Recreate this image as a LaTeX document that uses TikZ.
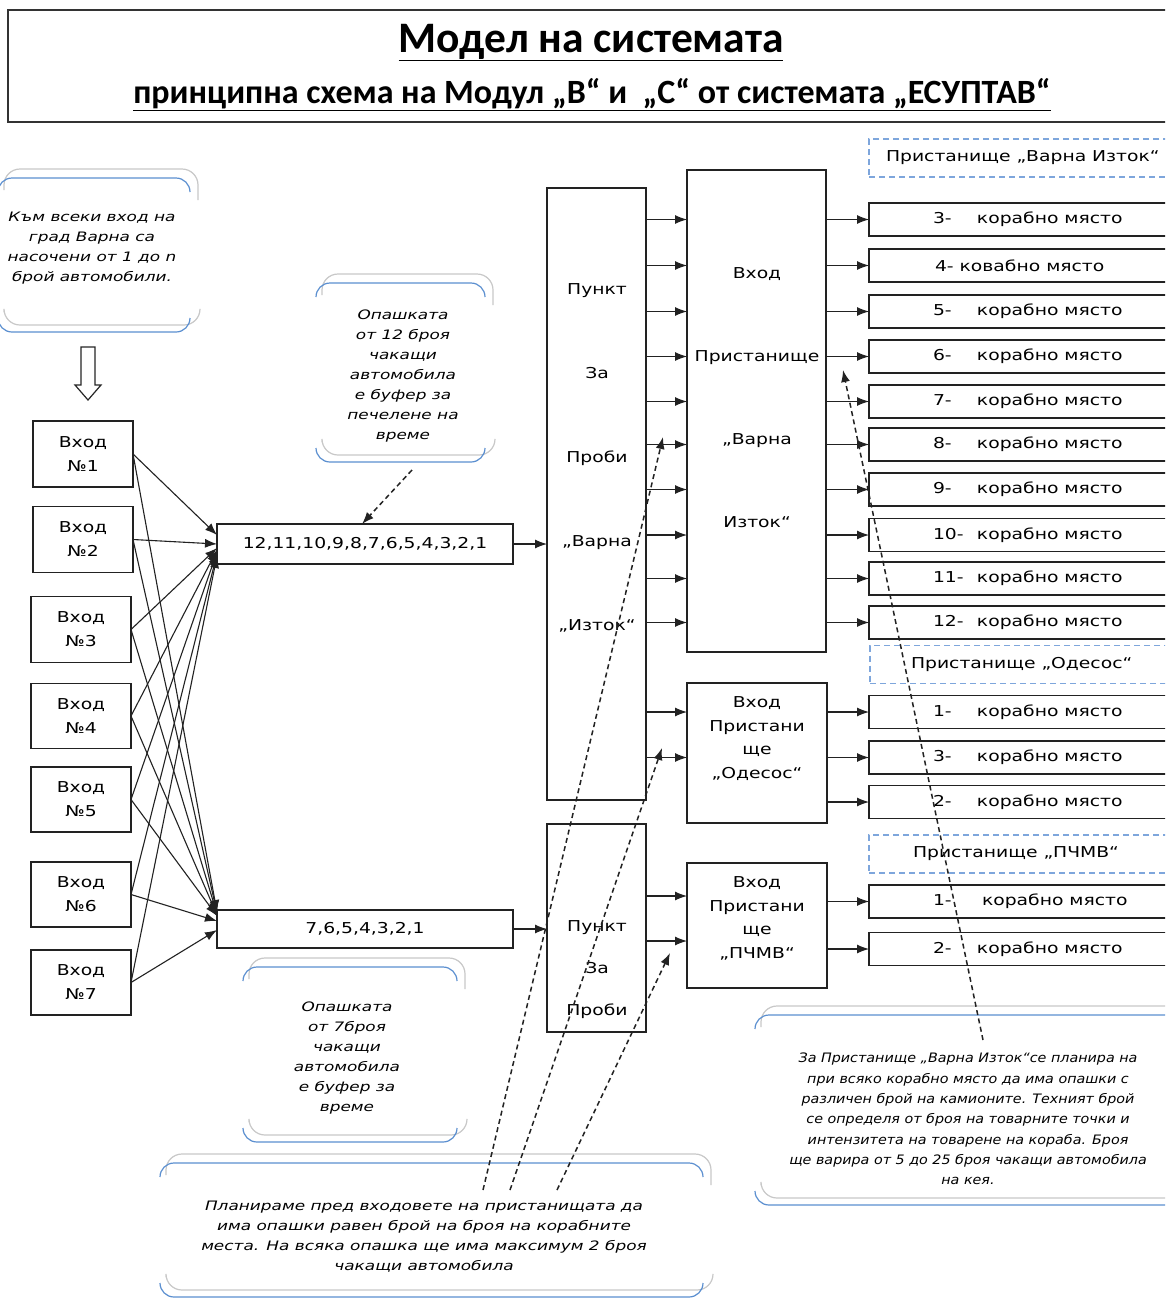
\documentclass[tikz,border=0pt]{standalone}
\usepackage{fontspec}
\usetikzlibrary{arrows.meta,calc}
\newfontfamily\bodyf[FakeStretch=1.25]{DejaVu Sans}
\newfontfamily\notef[FakeStretch=1.3]{DejaVu Sans}
\newfontfamily\notefb[FakeStretch=1.1]{DejaVu Sans}
\newfontfamily\titlef{Carlito}
\definecolor{bblue}{HTML}{5B8FD0}
\definecolor{bgrey}{HTML}{C8C8C8}
\definecolor{dblue}{HTML}{7EA6DC}
\definecolor{lc}{HTML}{222222}
\newcommand\bt[2][44pt]{\makebox[183pt][l]{\makebox[#1][l]{#2}корабно място}}
\newcommand\mybubble[4]{%
  \draw[bgrey,line width=1.2pt,rounded corners=16pt] (#1+6,#2+12) -- (#1+6,#2-9) -- (#3+8,#2-9) -- (#3+8,#2+22);
  \draw[bblue,line width=1.2pt,rounded corners=14pt] (#1,#2+14) -- (#1,#2) -- (#3,#2) -- (#3,#2+14);
  \draw[bgrey,line width=1.2pt,rounded corners=16pt] (#1+6,#4-20) -- (#1+6,#4-7) -- (#3+10,#4-7) -- (#3+10,#4-22);
  \draw[bblue,line width=1.2pt,rounded corners=14pt] (#1,#4-14) -- (#1,#4) -- (#3,#4) -- (#3,#4-14);
}
\tikzset{
  box/.style={draw=lc, line width=1.3pt, inner sep=0pt, outer sep=0pt, font=\bodyf\fontsize{15}{24}\selectfont, align=center},
  berth/.style={box, minimum width=311pt, minimum height=33pt},
  portlbl/.style={draw=dblue, dash pattern=on 6pt off 4pt, line width=1.5pt, minimum width=311pt, minimum height=38pt, inner sep=0pt, font=\bodyf\fontsize{15}{24}\selectfont},
  lbl/.style={font=\bodyf\fontsize{15}{24}\selectfont, align=center, inner sep=0pt},
  note/.style={font=\notef\itshape\fontsize{13}{20}\selectfont, align=center, inner sep=0pt},
  arr/.style={-{Latex[length=12pt,width=9pt]}, line width=1.1pt, draw=lc},
  darr/.style={-{Latex[length=12pt,width=9pt]}, line width=1.5pt, draw=lc, dash pattern=on 5pt off 3.5pt},
}
\begin{document}
\begin{tikzpicture}[x=1pt,y=-1pt]
\useasboundingbox (0,0) rectangle (1165,1301);
\fill[white] (0,0) rectangle (1165,1301);
\clip (0,0) rectangle (1165,1301);

% title
\draw[line width=1.5pt, draw=gray!40!black] (8,10) rectangle (1190,122);
\node[font=\titlef\bfseries\fontsize{43.5}{50}\selectfont, inner sep=0pt, anchor=base] (title) at (591,52) {\underline{Модел на системата}};
\node[font=\titlef\bfseries\fontsize{34}{40}\selectfont, inner sep=0pt, anchor=base] (subtitle) at (592,103) {\underline{принципна схема на Модул „В“ и \ „С“ от системата „ЕСУПТАВ“}};

% bubbles
\mybubble{-2}{178}{190}{332}
\mybubble{316}{283}{485}{462}
\mybubble{243}{967}{457}{1142}
\mybubble{160}{1163}{703}{1297}
\mybubble{755}{1015}{1200}{1205}

\node[note] (n1) at (92,248) {Към всеки вход на\\град Варна са\\насочени от 1 до n\\брой автомобили.};
\node[note] (n2) at (403,376.5) {Опашката\\от 12 броя\\чакащи\\автомобила\\е буфер за\\печелене на\\време};
\node[note] (n3) at (347,1058.5) {Опашката\\от 7броя\\чакащи\\автомобила\\е буфер за\\време};
\node[note] (n4) at (424,1237) {Планираме пред входовете на пристанищата да\\има опашки равен брой на броя на корабните\\места. На всяка опашка ще има максимум 2 броя\\чакащи автомобила};
\node[note, font=\notefb\itshape\fontsize{13}{20.3}\selectfont] (n5) at (968,1119) {За Пристанище „Варна Изток“се планира на\\при всяко корабно място да има опашки с\\различен брой на камионите. Техният брой\\се определя от броя на товарните точки и\\интензитета на товарене на кораба. Броя\\ще варира от 5 до 25 броя чакащи автомобила\\на кея.};

% hollow down arrow
\draw[line width=1.2pt, draw=gray!30!black, fill=white] (81,347) -- (95,347) -- (95,385) -- (101,385) -- (88,400) -- (75,385) -- (81,385) -- cycle;

% inputs
\node[box, minimum width=100pt, minimum height=66pt] (in1) at (83,454) {Вход\\№1};
\node[box, minimum width=100pt, minimum height=66pt] (in2) at (83,539.5) {Вход\\№2};
\node[box, minimum width=100pt, minimum height=66pt] (in3) at (81,629.5) {Вход\\№3};
\node[box, minimum width=100pt, minimum height=65pt] (in4) at (81,716) {Вход\\№4};
\node[box, minimum width=100pt, minimum height=65pt] (in5) at (81,799.5) {Вход\\№5};
\node[box, minimum width=100pt, minimum height=65pt] (in6) at (81,894.5) {Вход\\№6};
\node[box, minimum width=100pt, minimum height=65pt] (in7) at (81,982.5) {Вход\\№7};

% queues
\node[box, minimum width=296pt, minimum height=40pt] (q1) at (365,544) {12,11,10,9,8,7,6,5,4,3,2,1};
\node[box, minimum width=296pt, minimum height=38pt] (q2) at (365,929) {7,6,5,4,3,2,1};

\foreach \i/\a/\b in {1/9/17, 2/0/16, 3/-4/15, 4/-6/14, 5/-8/13, 6/-10/8, 7/-12/-1} {
  \draw[arr] (in\i.east) -- ([yshift=\a pt]q1.west);
  \draw[arr] (in\i.east) -- ([yshift=\b pt]q2.west);
}

% test points
\node[box, minimum width=99pt, minimum height=612pt] (p1) at (596.5,494) {};
\node[lbl, font=\bodyf\fontsize{15}{84}\selectfont] (p1t) at (597,457.5) {Пункт\\За\\Проби\\„Варна\\„Изток“};
\node[box, minimum width=99pt, minimum height=208pt] (p2) at (596.5,928) {};
\node[lbl, font=\bodyf\fontsize{15}{42}\selectfont] (p2t) at (597,970) {Пункт\\За\\Проби};

% port entries
\node[box, minimum width=139pt, minimum height=482pt] (v1) at (756.5,411) {};
\node[lbl, font=\bodyf\fontsize{15}{83}\selectfont] (v1t) at (757,398) {Вход\\Пристанище\\„Варна\\Изток“};
\node[box, minimum width=140pt, minimum height=140pt] (od) at (757,753) {};
\node[lbl, font=\bodyf\fontsize{15}{23.7}\selectfont] (odt) at (757,738.5) {Вход\\Пристани\\ще\\„Одесос“};
\node[box, minimum width=140pt, minimum height=125pt] (pc) at (757,925.5) {};
\node[lbl, font=\bodyf\fontsize{15}{23.7}\selectfont] (pct) at (757,918.5) {Вход\\Пристани\\ще\\„ПЧМВ“};

% port labels
\node[portlbl] (pv) at (1024.5,158) {\makebox[277pt][l]{Пристанище „Варна Изток“}};
\node[portlbl] (pod) at (1025.5,664.5) {\makebox[229pt][l]{Пристанище „Одесос“}};
\node[portlbl] (ppc) at (1024.5,854) {\makebox[223pt][l]{Пристанище „ПЧМВ“}};

% berths
\node[berth] (b3) at (1024.5,219.5) {\bt{3-}};
\node[berth] (b4) at (1024.5,265.5) {\makebox[179pt][l]{4- ковабно място}};
\node[berth] (b5) at (1024.5,311.5) {\bt{5-}};
\node[berth] (b6) at (1024.5,356.5) {\bt{6-}};
\node[berth] (b7) at (1024.5,401.5) {\bt{7-}};
\node[berth] (b8) at (1024.5,444.5) {\bt{8-}};
\node[berth] (b9) at (1024.5,489.5) {\bt{9-}};
\node[berth] (b10) at (1024.5,535) {\bt{10-}};
\node[berth] (b11) at (1024.5,578.5) {\bt{11-}};
\node[berth] (b12) at (1024.5,622.5) {\bt{12-}};
\node[berth] (o1) at (1024.5,712) {\bt{1-}};
\node[berth] (o3) at (1024.5,757.5) {\bt{3-}};
\node[berth] (o2) at (1024.5,802) {\bt{2-}};
\node[berth] (c1) at (1024.5,901.5) {\bt[49pt]{1-}};
\node[berth] (c2) at (1024.5,949) {\bt{2-}};

% main flow
\draw[arr] (q1.east) -- (q1.east -| p1.west);
\draw[arr] (q2.east) -- (q2.east -| p2.west);
\foreach \b in {b3,b4,b5,b6,b7,b8,b9,b10,b11,b12} {
  \draw[arr] (p1.east |- \b.west) -- (v1.west |- \b.west);
  \draw[arr] (v1.east |- \b.west) -- (\b.west);
}
\foreach \b in {o1,o3} \draw[arr] (p1.east |- \b.west) -- (od.west |- \b.west);
\foreach \b in {o1,o3,o2} \draw[arr] (od.east |- \b.west) -- (\b.west);
\draw[arr] ([yshift=32pt]p2.east) -- ([yshift=32pt]p2.east -| pc.west);
\draw[arr] ([yshift=-13pt]p2.east) -- ([yshift=-13pt]p2.east -| pc.west);
\foreach \b in {c1,c2} \draw[arr] (pc.east |- \b.west) -- (\b.west);

% dashed callout arrows
\coordinate (d1s) at (412,470);
\coordinate (d2s) at (483,1190);
\coordinate (d3s) at (510,1190);
\coordinate (d4s) at (557,1190);
\coordinate (d2e) at (663,437);
\coordinate (d3e) at (662,748);
\coordinate (d4e) at (670,953);
\coordinate (d5s) at (983,1040);
\coordinate (d5e) at (843,370);
\draw[darr] (d1s) -- ([xshift=-3pt]q1.north);
\draw[darr] (d2s) -- (d2e);
\draw[darr] (d3s) -- (d3e);
\draw[darr] (d4s) -- (d4e);
\draw[darr] (d5s) -- (d5e);
\end{tikzpicture}
\end{document}
